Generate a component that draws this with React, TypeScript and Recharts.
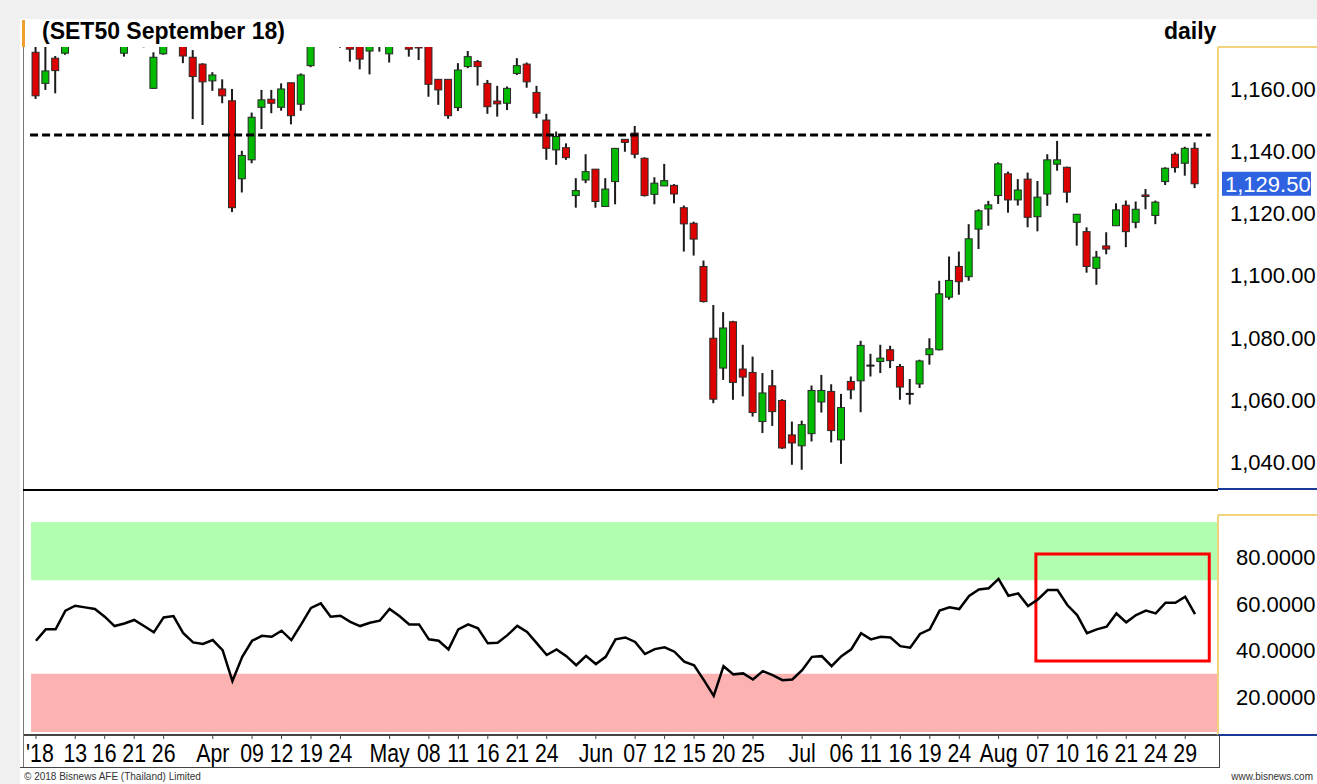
import React from 'react';
import {
    Bar,
    ComposedChart,
    Line,
    LineChart,
    ReferenceArea,
    ReferenceLine,
    XAxis,
    YAxis,
} from 'recharts';

// daily candles, 7 Mar 2018 .. 30 Aug 2018 (index = trading day)
const opens = [
    1171.8, 1161.8, 1169.9, 1171.5, 1177, 1181, 1178, 1182, 1179, 1171.5,
    1178, 1177, 1160.2, 1171.3, 1177, 1176, 1170.2, 1168, 1162.6, 1160,
    1156.2, 1131.1, 1137.2, 1154.1, 1156.7, 1154.1, 1162, 1155.1, 1167.5, 1175,
    1180, 1178, 1176, 1175, 1172.2, 1174.5, 1171.3, 1178, 1176, 1174,
    1175, 1163.1, 1163.1, 1154, 1167.2, 1168.8, 1161.8, 1156.1, 1155.4, 1165,
    1168, 1158.9, 1150, 1140.4, 1141.1, 1125.7, 1130.7, 1134.2, 1122.2, 1130.2,
    1143.8, 1145.8, 1137.7, 1126.1, 1128.8, 1129, 1121.8, 1116.8, 1102.9, 1079.8,
    1070.2, 1085.1, 1069.9, 1068.8, 1053, 1064.5, 1059.8, 1048.7, 1045.2, 1049.1,
    1059.3, 1062.7, 1047.1, 1065.9, 1066.1, 1071, 1072.3, 1076.1, 1070.7, 1061.9,
    1065.1, 1074.5, 1076.1, 1093, 1102.9, 1099.6, 1114.9, 1121.4, 1125.7, 1132.7,
    1124.3, 1131, 1118.9, 1126.2, 1135.8, 1134.8, 1117.1, 1114.1, 1102.3, 1109.5,
    1116, 1122.6, 1117.1, 1125.9, 1119.3, 1130.2, 1139, 1136.1, 1140.9,
];
const highs = [
    1176, 1174.5, 1170.6, 1179, 1182, 1183, 1184, 1184, 1181, 1177,
    1179, 1178, 1171.8, 1177, 1180, 1177, 1172.5, 1168.3, 1165.4, 1163.1,
    1160, 1140.1, 1152.4, 1159.7, 1159.7, 1161.8, 1162, 1165, 1177, 1181,
    1182, 1180, 1177, 1176, 1177, 1178, 1179, 1180, 1177, 1175,
    1176, 1163.1, 1163.1, 1168.3, 1172.2, 1169.3, 1162.9, 1161, 1160.8, 1169.9,
    1168.5, 1161, 1152, 1146.3, 1142.5, 1131.3, 1139, 1134.2, 1131.3, 1140.9,
    1143.8, 1148.1, 1138, 1131.6, 1135.9, 1129.4, 1122.5, 1117.3, 1104.8, 1090.5,
    1088.2, 1085.4, 1077.7, 1073.9, 1068.6, 1069.6, 1060.2, 1053, 1053.3, 1064.6,
    1068, 1065, 1061.9, 1067.5, 1079, 1074.8, 1077.7, 1077.4, 1071.5, 1066.7,
    1072.9, 1079.8, 1098.3, 1106.1, 1107.7, 1116.5, 1121.3, 1124, 1136.4, 1133.4,
    1131, 1133.1, 1130.4, 1139, 1143.3, 1135, 1119.7, 1115.5, 1107.9, 1113.9,
    1123.2, 1124.1, 1123.8, 1127.8, 1124.1, 1134.8, 1139.6, 1141.4, 1142.8,
];
const lows = [
    1156.8, 1159.7, 1158.6, 1171, 1176, 1176, 1177, 1177, 1175, 1170.4,
    1174, 1173.4, 1160, 1171, 1175, 1168.3, 1150.3, 1148.4, 1159.4, 1155.4,
    1120.4, 1126.7, 1136.1, 1147.1, 1152.2, 1153, 1148.6, 1153, 1167, 1174,
    1175, 1173.3, 1168.8, 1166.3, 1164.7, 1172, 1168.5, 1175, 1170.4, 1169.3,
    1157.5, 1154.9, 1150.4, 1152.9, 1166.7, 1161.1, 1152, 1151.1, 1153.2, 1164.5,
    1160.4, 1150.6, 1137.2, 1135.6, 1137.2, 1121.8, 1129.7, 1121.8, 1122.2, 1122.9,
    1139.8, 1137.7, 1125.4, 1122.9, 1128.8, 1123.2, 1107.7, 1106.4, 1091.3, 1058.9,
    1066.4, 1060, 1061.1, 1054.6, 1049.3, 1051.6, 1044.2, 1039.1, 1037.5, 1046.6,
    1055.9, 1046.3, 1039.4, 1060.2, 1056, 1067.5, 1068.6, 1070.2, 1060, 1058.5,
    1063.8, 1071.3, 1075.9, 1092.2, 1093.8, 1098.3, 1108.5, 1116, 1123, 1120.2,
    1122.5, 1115.5, 1114.2, 1122.4, 1133.7, 1123.4, 1109.6, 1100.9, 1097, 1106.8,
    1116, 1109.1, 1115.2, 1121.3, 1116.5, 1129.1, 1133.1, 1132.1, 1128.1,
];
const closes = [
    1157.8, 1165.8, 1165.9, 1177, 1180, 1178, 1182, 1179, 1176, 1176,
    1175, 1174.5, 1170.2, 1176, 1178, 1170.6, 1164, 1162.3, 1164.5, 1157.8,
    1121.8, 1138.6, 1150.9, 1156.5, 1155.4, 1160, 1151.4, 1164.5, 1175, 1179,
    1177, 1176, 1172.8, 1169.6, 1175, 1176, 1178, 1176.5, 1172.8, 1173.2,
    1161.5, 1159.7, 1151.4, 1166.1, 1170.4, 1167.2, 1154.3, 1155.2, 1160.2, 1167.5,
    1162.3, 1152.2, 1140.9, 1144.7, 1137.9, 1127.3, 1133.4, 1123.8, 1127.8, 1140.9,
    1142.8, 1139, 1125.7, 1129.7, 1130.5, 1126.2, 1116.6, 1111.7, 1091.6, 1060.2,
    1083.1, 1065.6, 1067.3, 1055.9, 1062.2, 1056.2, 1044.5, 1046.1, 1052, 1063,
    1063, 1050.1, 1057.5, 1063.2, 1077.5, 1071, 1073.4, 1072.6, 1064.1, 1061.9,
    1072.5, 1076.4, 1094.1, 1098.4, 1098, 1111.8, 1120.8, 1122.7, 1135.9, 1124.3,
    1127.5, 1118.7, 1125.2, 1137.2, 1137.2, 1126.8, 1119.7, 1102.9, 1105.9, 1108.5,
    1121.1, 1114.1, 1121.3, 1125.4, 1123.6, 1134.5, 1134.7, 1140.9, 1129.5,
];
const rsiValues = [
    44.1, 49.0, 49.0, 57.0, 59.1, 58.4, 57.7, 54.4, 50.4, 51.5,
    53.0, 50.4, 47.7, 54.1, 54.7, 47.3, 43.4, 42.7, 44.4, 40.1,
    26.8, 37.2, 44.1, 46.2, 45.8, 48.4, 44.4, 51.1, 58.2, 60.1,
    54.4, 54.8, 52.2, 50.4, 51.8, 52.7, 57.7, 54.7, 51.1, 51.1,
    44.7, 44.1, 40.4, 49.0, 51.1, 49.4, 43.0, 43.2, 46.5, 50.5,
    47.9, 43.0, 38.0, 40.4, 37.5, 33.6, 37.6, 34.1, 37.2, 44.7,
    45.5, 43.6, 38.4, 40.5, 41.3, 39.4, 35.1, 33.6, 27.2, 20.5,
    33.2, 29.7, 30.1, 27.5, 31.1, 29.4, 27.2, 27.5, 31.5, 37.2,
    37.5, 33.2, 37.5, 40.4, 47.3, 44.7, 45.8, 45.5, 41.8, 41.1,
    47.0, 49.0, 57.0, 58.4, 57.7, 63.3, 66.1, 66.6, 70.6, 63.4,
    64.4, 59.0, 61.8, 65.8, 65.8, 59.4, 55.1, 47.3, 49.0, 50.1,
    55.8, 52.0, 55.1, 57.0, 55.8, 60.4, 60.4, 63.0, 55.5,
];

const tickIndexes = [
    0, 4, 7, 10, 13, 18, 22, 25, 28, 31, 36, 40, 43, 46, 49, 52, 57, 61,
    64, 67, 70, 73, 78, 82, 85, 88, 91, 94, 98, 102, 105, 108, 111, 114, 117,
];
const tickLabels = [
    "'18", '13', '16', '21', '26', 'Apr', '09', '12', '19', '24', 'May', '08',
    '11', '16', '21', '24', 'Jun', '07', '12', '15', '20', '25', 'Jul', '06',
    '11', '16', '19', '24', 'Aug', '07', '10', '16', '21', '24', '29',
];
const priceTicks = [1040, 1060, 1080, 1100, 1120, 1140, 1160];
const lastPrice = 1129.5;
const resistance = 1145.2;
const rsiTicks = [20, 40, 60, 80];

const rows = opens.map((open, i) => ({
    i,
    open,
    high: highs[i],
    low: lows[i],
    close: closes[i],
    rsi: rsiValues[i],
}));

const X_MIN = -1.32;
const X_MAX = 120.34;
const FONT = "'Liberation Sans', Arial, sans-serif";

function Candle(props: any) {
    const { x, y, width, height, payload } = props;
    if (x == null || y == null || !payload) return null;
    const { open, close, high, low } = payload;
    const cx = x + width / 2;
    const top = Math.min(y, y + height);
    const bottom = Math.max(y, y + height);
    const k = (bottom - top) / (high - low);
    const yOf = (v: number) => top + (high - v) * k;
    const yo = yOf(open);
    const yc = yOf(close);
    const doji = Math.abs(close - open) < 0.05;
    return (
        <g>
            <line x1={cx} x2={cx} y1={top} y2={bottom} stroke='#1a1a1a' strokeWidth={2} />
            {doji ? (
                <line x1={cx - 4} x2={cx + 4} y1={yo} y2={yo} stroke='#1a1a1a' strokeWidth={2} />
            ) : (
                <rect
                    x={cx - 3.5}
                    y={Math.min(yo, yc)}
                    width={7}
                    height={Math.max(Math.abs(yc - yo), 1.5)}
                    fill={close > open ? '#00bb00' : '#dd0000'}
                    stroke='#2a2a2a'
                    strokeWidth={1}
                />
            )}
        </g>
    );
}

function PriceTick({ x, y, payload }: any) {
    const v = payload.value;
    const label = v.toLocaleString('en-US', { minimumFractionDigits: 2, maximumFractionDigits: 2 });
    if (v === lastPrice) {
        return (
            <g>
                <rect x={x - 8} y={y - 12} width={89} height={24} fill='#2f62e0' />
                <text x={x - 5} y={y} dy='0.36em' fill='#fff' fontSize={22} fontFamily={FONT}>
                    {label}
                </text>
            </g>
        );
    }
    return (
        <text x={x} y={y} dy='0.36em' fill='#000' fontSize={22} fontFamily={FONT}>
            {label}
        </text>
    );
}

function RsiTick({ x, y, payload }: any) {
    return (
        <text x={x} y={y} dy='0.36em' fill='#000' fontSize={22} fontFamily={FONT}>
            {payload.value.toFixed(4)}
        </text>
    );
}

function DateTick({ x, y, payload }: any) {
    const label = tickLabels[tickIndexes.indexOf(payload.value)];
    const first = payload.value === tickIndexes[0];
    return (
        <text
            transform={`translate(${first ? x - 10 : x},${y + 18}) scale(0.82,1)`}
            textAnchor={first ? 'start' : 'middle'}
            fill='#000'
            fontSize={26}
            fontFamily={FONT}
        >
            {label}
        </text>
    );
}

const line = (left: number, top: number, width: number, height: number, color: string) => (
    <div style={{ position: 'absolute', left, top, width, height, background: color }} />
);

export default function App() {
    return (
        <div
            style={{
                position: 'absolute',
                left: 0,
                top: 0,
                width: 1317,
                height: 784,
                overflow: 'hidden',
                background: '#f0f0f0',
                fontFamily: FONT,
            }}
        >
            <div style={{ position: 'absolute', left: 20, top: 19, width: 1297, height: 765, background: '#fff' }} />

            <div style={{ position: 'absolute', left: 0, top: 0 }}>
                <ComposedChart
                    width={1317}
                    height={490}
                    data={rows}
                    margin={{ top: 47, right: 0, bottom: 0, left: 23 }}
                >
                    <XAxis dataKey='i' type='number' domain={[X_MIN, X_MAX]} allowDataOverflow hide />
                    <YAxis
                        orientation='right'
                        width={99}
                        domain={[1030.98, 1173.5]}
                        allowDataOverflow
                        ticks={[...priceTicks, lastPrice]}
                        interval={0}
                        tick={<PriceTick />}
                        tickLine={false}
                        tickSize={4}
                        tickMargin={8}
                        axisLine={{ stroke: '#f2d27a', strokeWidth: 2 }}
                    />
                    <Bar
                        dataKey={(d: any) => [d.low, d.high]}
                        barSize={7}
                        shape={(p: any) => <Candle {...p} />}
                        isAnimationActive={false}
                    />
                    <ReferenceLine
                        segment={[
                            { x: -0.6, y: resistance },
                            { x: 119.6, y: resistance },
                        ]}
                        stroke='#000'
                        strokeWidth={3}
                        strokeDasharray='8 4'
                        ifOverflow='visible'
                    />
                </ComposedChart>
            </div>

            <div style={{ position: 'absolute', left: 0, top: 492 }}>
                <LineChart
                    width={1317}
                    height={292}
                    data={rows}
                    margin={{ top: 23, right: 0, bottom: 16, left: 23 }}
                >
                    <XAxis
                        dataKey='i'
                        type='number'
                        domain={[X_MIN, X_MAX]}
                        allowDataOverflow
                        ticks={tickIndexes}
                        interval={0}
                        tick={<DateTick />}
                        height={33}
                        tickSize={4}
                        tickMargin={5}
                        axisLine={{ stroke: '#444', strokeWidth: 2 }}
                        tickLine={{ stroke: '#444' }}
                    />
                    <YAxis
                        orientation='right'
                        width={99}
                        domain={[3.7, 98]}
                        allowDataOverflow
                        ticks={rsiTicks}
                        interval={0}
                        tick={<RsiTick />}
                        tickLine={false}
                        tickSize={4}
                        tickMargin={14}
                        axisLine={{ stroke: '#f2d27a', strokeWidth: 2 }}
                    />
                    <ReferenceArea x1={-0.5} x2={X_MAX} y1={70} y2={95} fill='#b3fdb1' fillOpacity={1} stroke='none' />
                    <ReferenceArea x1={-0.5} x2={X_MAX} y1={5} y2={30} fill='#fdb2b2' fillOpacity={1} stroke='none' />
                    <Line
                        dataKey='rsi'
                        type='linear'
                        stroke='#000'
                        strokeWidth={2.5}
                        dot={false}
                        isAnimationActive={false}
                    />
                    <ReferenceArea
                        x1={101.8}
                        x2={119.45}
                        y1={35.4}
                        y2={81.3}
                        fill='none'
                        stroke='#ff0000'
                        strokeWidth={3}
                        strokeOpacity={1}
                    />
                </LineChart>
            </div>

            {line(22, 20, 3, 27, '#f0a030')}
            {line(23, 47, 1, 721, '#777')}
            {line(23, 489, 1195, 2, '#000')}
            {line(1218, 46, 99, 2, '#f2d27a')}
            {line(1218, 488, 99, 2, '#1a3a9a')}
            {line(1218, 514, 99, 2, '#f2d27a')}
            {line(1218, 734, 99, 2, '#1a3a9a')}
            {line(20, 767, 1200, 1, '#444')}
            {line(1219, 735, 1, 33, '#444')}

            <div
                style={{
                    position: 'absolute',
                    left: 42,
                    top: 20,
                    fontSize: 23,
                    lineHeight: '23px',
                    fontWeight: 'bold',
                    color: '#000',
                    whiteSpace: 'nowrap',
                }}
            >
                (SET50 September 18)
            </div>
            <div
                style={{
                    position: 'absolute',
                    left: 1164,
                    top: 20,
                    fontSize: 23,
                    lineHeight: '23px',
                    fontWeight: 'bold',
                    color: '#000',
                }}
            >
                daily
            </div>
            <div style={{ position: 'absolute', left: 24, top: 772, fontSize: 10, lineHeight: '10px', color: '#333' }}>
                © 2018 Bisnews AFE (Thailand) Limited
            </div>
            <div
                style={{
                    position: 'absolute',
                    right: 4,
                    top: 772,
                    fontSize: 10,
                    lineHeight: '10px',
                    color: '#333',
                    whiteSpace: 'nowrap',
                }}
            >
                www.bisnews.com
            </div>
        </div>
    );
}
